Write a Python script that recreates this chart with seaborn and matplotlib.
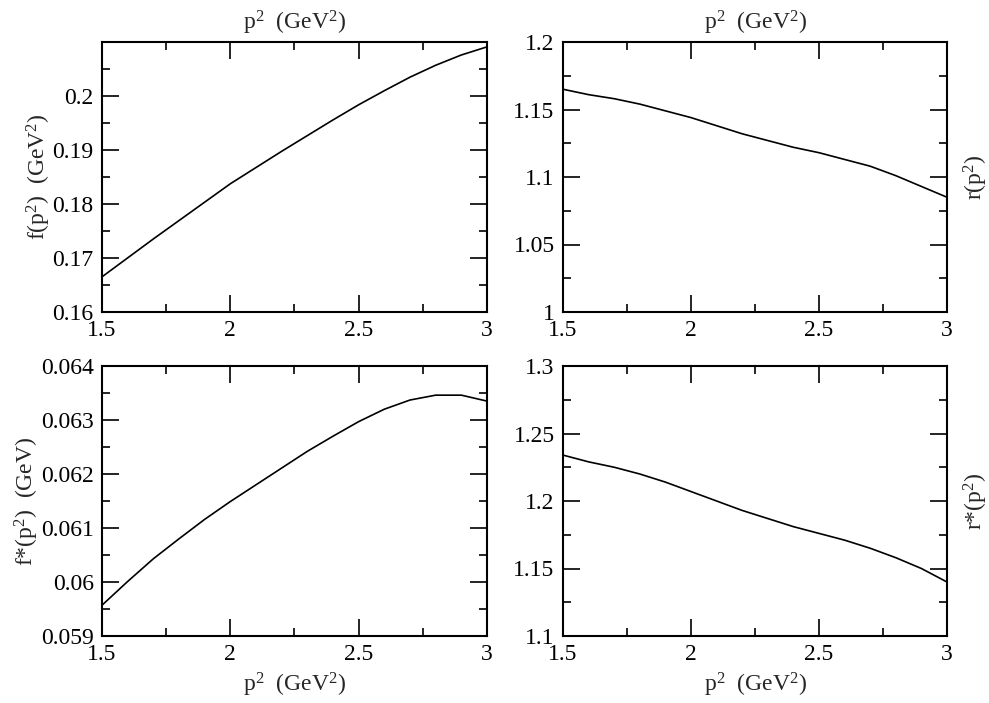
import matplotlib
matplotlib.use("Agg")
import matplotlib.pyplot as plt
from matplotlib.ticker import MultipleLocator, AutoMinorLocator, FormatStrFormatter
import seaborn as sns
import pandas as pd

p2 = [1.5, 1.6, 1.7, 1.8, 1.9, 2.0, 2.1, 2.2, 2.3, 2.4, 2.5, 2.6, 2.7, 2.8, 2.9, 3.0]
f_vals = [0.1665, 0.1700, 0.1735, 0.1769, 0.1803, 0.1837, 0.1867, 0.1897, 0.1926,
          0.1955, 0.1983, 0.2009, 0.2034, 0.2056, 0.2075, 0.2090]
r_vals = [1.165, 1.161, 1.158, 1.154, 1.149, 1.144, 1.138, 1.132, 1.127, 1.122,
          1.118, 1.113, 1.108, 1.101, 1.093, 1.085]
fs_vals = [0.05957, 0.06001, 0.06043, 0.06080, 0.06116, 0.06149, 0.06180, 0.06211,
           0.06242, 0.06270, 0.06297, 0.06320, 0.06337, 0.06346, 0.06346, 0.06335]
rs_vals = [1.234, 1.229, 1.225, 1.220, 1.214, 1.207, 1.200, 1.193, 1.187, 1.181,
           1.176, 1.171, 1.165, 1.158, 1.150, 1.140]

xlabel = r"p$^2$  (GeV$^2$)"
ylabels = [r"f(p$^2$)  (GeV$^2$)", r"r(p$^2$)", r"f*(p$^2$)  (GeV)", r"r*(p$^2$)"]

sns.set_style("ticks")
plt.rcParams['font.family'] = ['Liberation Serif', 'DejaVu Serif']
plt.rcParams['mathtext.fontset'] = 'custom'
plt.rcParams['mathtext.rm'] = 'Liberation Serif'
plt.rcParams['mathtext.it'] = 'Liberation Serif'

W, H = 989, 703
fig = plt.figure(figsize=(W / 100, H / 100), dpi=100)

def rect(l, r, t, b):
    return [l / W, 1 - b / H, (r - l) / W, (b - t) / H]

specs = [
    (rect(102, 487, 42, 312), f_vals, (0.16, 0.2099), 0.01, "left", "top", 0),
    (rect(563, 947, 42, 312), r_vals, (1.0, 1.2), 0.05, "right", "top", 11),
    (rect(102, 487, 366, 636), fs_vals, (0.059, 0.064), 0.001, "left", "bottom", 0),
    (rect(563, 947, 366, 636), rs_vals, (1.1, 1.3), 0.05, "right", "bottom", 11),
]

for (pos, vals, ylim, ystep, ylab_side, xlab_side, ypad), ylab in zip(specs, ylabels):
    ax = fig.add_axes(pos)
    df = pd.DataFrame({"x": p2, "y": vals})
    sns.lineplot(data=df, x="x", y="y", ax=ax, color="black", linewidth=1.2)
    ax.set_xlim(1.5, 3.0)
    ax.set_ylim(*ylim)
    ax.xaxis.set_major_locator(MultipleLocator(0.5))
    ax.xaxis.set_minor_locator(AutoMinorLocator(2))
    ax.yaxis.set_major_locator(MultipleLocator(ystep))
    ax.yaxis.set_minor_locator(AutoMinorLocator(2))
    ax.xaxis.set_major_formatter(FormatStrFormatter("%g"))
    ax.yaxis.set_major_formatter(FormatStrFormatter("%g"))
    ax.tick_params(which="both", direction="in", top=True, right=True,
                   labelsize=17, width=1.2, colors="black")
    ax.tick_params(which="major", length=12, pad=6)
    ax.tick_params(which="minor", length=6)
    for s in ax.spines.values():
        s.set_linewidth(1.5)
        s.set_color("black")
    ax.set_xlabel(xlabel, fontsize=17, labelpad=(9 if xlab_side == "top" else 4))
    ax.xaxis.set_label_position(xlab_side)
    ax.set_ylabel(ylab, fontsize=17, labelpad=ypad)
    if ylab_side == "right":
        ax.yaxis.set_label_position("right")
        ax.yaxis.label.set_rotation(90)

fig.savefig("out.png", dpi=100)
